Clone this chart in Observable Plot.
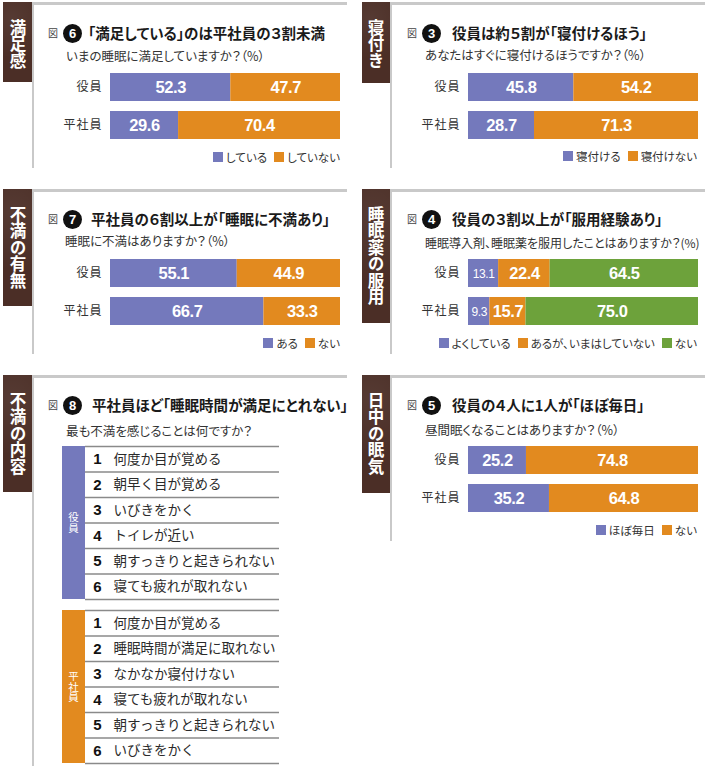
<!DOCTYPE html>
<html><head><meta charset="utf-8">
<script src="https://cdn.jsdelivr.net/npm/d3@7"></script>
<script src="https://cdn.jsdelivr.net/npm/@observablehq/plot@0.6"></script>
<style>
body{margin:0;background:#fff;}
#root{position:relative;width:710px;height:768px;overflow:hidden;font-family:"Noto Sans CJK JP",sans-serif;color:#2a2a2a;}
#root svg g[aria-label="y-axis tick label"] text{letter-spacing:1px;}
#root svg .val text{letter-spacing:-0.4px;}
</style>
</head><body><div id="root"></div>
<script>
// ---- data ----
const groups = ["役員", "平社員"];
// 図6 満足感
const satCats = ["している", "していない"];
const satExec = [52.3, 47.7];
const satStaff = [29.6, 70.4];
// 図3 寝付き
const onsetCats = ["寝付ける", "寝付けない"];
const onsetExec = [45.8, 54.2];
const onsetStaff = [28.7, 71.3];
// 図7 不満の有無
const dissCats = ["ある", "ない"];
const dissExec = [55.1, 44.9];
const dissStaff = [66.7, 33.3];
// 図4 睡眠薬の服用
const medCats = ["よくしている", "あるが、いまはしていない", "ない"];
const medExec = [13.1, 22.4, 64.5];
const medStaff = [9.3, 15.7, 75.0];
// 図5 日中の眠気
const dayCats = ["ほぼ毎日", "ない"];
const dayExec = [25.2, 74.8];
const dayStaff = [35.2, 64.8];
// 図8 不満の内容
const ranks = [1, 2, 3, 4, 5, 6];
const execComplaints = ["何度か目が覚める", "朝早く目が覚める", "いびきをかく", "トイレが近い", "朝すっきりと起きられない", "寝ても疲れが取れない"];
const staffComplaints = ["何度か目が覚める", "睡眠時間が満足に取れない", "なかなか寝付けない", "寝ても疲れが取れない", "朝すっきりと起きられない", "いびきをかく"];

// ---- styles ----
const PURPLE = "#7479bc", ORANGE = "#e28a1f", GREEN = "#6da23b", BROWN = "#4b2e26", LINE = "#c9c9c9";
const two = [PURPLE, ORANGE], three = [PURPLE, ORANGE, GREEN];
const NUM = "'Liberation Sans','Arial',sans-serif";
const JP = "'Noto Sans CJK JP',sans-serif";

const root = document.getElementById("root");
function el(css, html) {
  const e = document.createElement("div");
  e.style.cssText = "position:absolute;" + css;
  if (html != null) e.innerHTML = html;
  root.appendChild(e);
  return e;
}

function frame(x, y, topW, leftH, tabX, tabH, tabText) {
  el(`left:${x}px;top:${y}px;width:${topW}px;height:3px;background:${LINE}`);
  el(`left:${x - 1}px;top:${y}px;width:2px;height:${leftH}px;background:${LINE}`);
  el(`left:${tabX}px;top:${y}px;width:${x - 1 - tabX}px;height:${tabH}px;background:${BROWN};` +
     `background-image:radial-gradient(circle at 30% 20%,rgba(255,255,255,0.06),rgba(0,0,0,0) 60%);` +
     `color:#fff;font-weight:700;font-size:16.5px;writing-mode:vertical-rl;text-orientation:upright;` +
     `line-height:${x - 1 - tabX}px;padding-top:17px;box-sizing:border-box;font-family:${JP}`, tabText);
}

function title(zuX, cy, num, textX, text) {
  el(`left:${zuX}px;top:${cy - 8}px;line-height:16px;font-size:10px;color:#444`, "図");
  el(`left:${zuX + 15}px;top:${cy - 9.5}px;width:19px;height:19px;border-radius:50%;background:#111;color:#fff;` +
     `font:bold 13px 'Liberation Sans',sans-serif;text-align:center;line-height:19px`, num);
  el(`left:${textX}px;top:${cy - 12}px;line-height:24px;font-size:14.5px;font-weight:700;color:#1a1a1a;` +
     `white-space:nowrap;font-feature-settings:'palt'`, text);
}

function subtitle(x, cy, text, size) {
  el(`left:${x}px;top:${cy - 10}px;line-height:20px;font-size:${size || 12.5}px;color:#333;white-space:nowrap;` +
     `font-feature-settings:'palt'`, text);
}

function legend(rightX, cy, cats, colors) {
  const items = cats.map((c, i) =>
    `<span style="display:inline-block;width:10px;height:10px;background:${colors[i]};margin-right:3px"></span>` +
    `<span style="margin-right:${i < cats.length - 1 ? 7 : 0}px">${c}</span>`).join("");
  el(`right:${710 - rightX}px;top:${cy - 9}px;height:18px;display:flex;align-items:center;font-size:11.5px;` +
     `color:#333;white-space:nowrap;font-feature-settings:'palt'`, items);
}

function barChart(left, top, cats, exec, staff, colors) {
  const rows = [];
  groups.forEach((g, gi) => {
    const vals = gi === 0 ? exec : staff;
    cats.forEach((c, ci) => rows.push({group: g, cat: c, value: vals[ci]}));
  });
  const chart = Plot.plot({
    width: 282, height: 66,
    marginLeft: 50, marginRight: 2, marginTop: 0, marginBottom: 0,
    style: {fontFamily: JP, color: "#333", background: "transparent", overflow: "visible"},
    x: {domain: [0, 100], axis: null},
    y: {domain: groups, paddingInner: 10 / 38, paddingOuter: 0, axis: null},
    color: {domain: cats, range: colors},
    marks: [
      Plot.barX(rows, Plot.stackX({x: "value", y: "group", fill: "cat"})),
      Plot.text(rows, Plot.stackX({x: "value", y: "group", z: "cat",
        text: d => d.value >= 14 ? d.value.toFixed(1) : "", fill: "white",
        fontSize: 16.5, fontWeight: "bold", fontFamily: NUM, dy: 0.5, className: "val"})),
      Plot.text(rows, Plot.stackX({x: "value", y: "group", z: "cat",
        text: d => d.value < 14 ? d.value.toFixed(1) : "", fill: "white",
        fontSize: 12, fontFamily: NUM, dy: 0.5, className: "val"})),
      Plot.axisY({tickSize: 0, tickPadding: 8, fontSize: 12, label: null})
    ]
  });
  chart.style.position = "absolute";
  chart.style.left = left + "px";
  chart.style.top = top + "px";
  root.appendChild(chart);
}

function rankTable(left, top, items, color, label) {
  const rows = ranks.map((r, i) => ({rank: r, text: items[i]}));
  el(`left:${left - 23}px;top:${top + 1}px;width:23px;height:153px;background:${color};` +
    `display:flex;align-items:center;justify-content:center;color:#fff;font-size:10.5px`,
    `<span style="writing-mode:vertical-rl;text-orientation:upright;line-height:1.05">${label}</span>`);
  const chart = Plot.plot({
    width: 196, height: 155,
    marginLeft: 0, marginRight: 2, marginTop: 1, marginBottom: 1,
    style: {fontFamily: JP, color: "#222", background: "transparent", overflow: "visible"},
    x: {domain: [0, 1], axis: null},
    y: {domain: [0.5, ranks.length + 0.5], reverse: true, axis: null},
    marks: [
      Plot.ruleY([0, ...ranks], {y: d => d + 0.5, stroke: "#8a8a8a", strokeWidth: 1.3}),
      Plot.text(rows, {y: "rank", frameAnchor: "left", dx: 12, text: d => String(d.rank),
        textAnchor: "middle", fontWeight: "bold", fontSize: 15, fontFamily: NUM, fill: "#111"}),
      Plot.text(rows, {y: "rank", frameAnchor: "left", dx: 28, text: "text",
        textAnchor: "start", fontSize: 13.5, fill: "#2a2a2a"})
    ]
  });
  chart.style.position = "absolute";
  chart.style.left = left + "px";
  chart.style.top = top + "px";
  root.appendChild(chart);
}

// ---- panel 1: 満足感 ----
frame(33, 2, 314, 166, 3, 80, "満足感");
title(48, 33, "6", 88, "「満足している」のは平社員の３割未満");
subtitle(66, 56, "いまの睡眠に満足していますか？（%）");
barChart(60, 73, satCats, satExec, satStaff, two);
legend(340, 157, satCats, two);

// ---- panel 2: 寝付き ----
frame(391, 2, 314, 166, 362, 81, "寝付き");
title(407, 33, "3", 452, "役員は約５割が「寝付けるほう」");
subtitle(425, 55, "あなたはすぐに寝付けるほうですか？（%）");
barChart(418, 73, onsetCats, onsetExec, onsetStaff, two);
legend(697, 156, onsetCats, two);

// ---- panel 3: 不満の有無 ----
frame(33, 189, 314, 165, 3, 117, "不満の有無");
title(48, 219, "7", 91, "平社員の６割以上が「睡眠に不満あり」");
subtitle(65, 241, "睡眠に不満はありますか？（%）");
barChart(60, 259, dissCats, dissExec, dissStaff, two);
legend(340, 343, dissCats, two);

// ---- panel 4: 睡眠薬の服用 ----
frame(391, 189, 314, 165, 362, 134, "睡眠薬の服用");
title(407, 219, "4", 452, "役員の３割以上が「服用経験あり」");
subtitle(425, 243, "睡眠導入剤、睡眠薬を服用したことはありますか？(%)", 12);
barChart(418, 259, medCats, medExec, medStaff, three);
legend(697, 343, medCats, three);

// ---- panel 5: 不満の内容 ----
frame(33, 375, 314, 391, 3, 117, "不満の内容");
title(48, 405, "8", 92, "平社員ほど「睡眠時間が満足にとれない」");
subtitle(66, 431, "最も不満を感じることは何ですか？");
rankTable(85, 445, execComplaints, PURPLE, "役員");
rankTable(85, 609, staffComplaints, ORANGE, "平社員");

// ---- panel 6: 日中の眠気 ----
frame(391, 375, 314, 166, 362, 118, "日中の眠気");
title(407, 405, "5", 452, "役員の４人に1人が「ほぼ毎日」");
subtitle(425, 430, "昼間眠くなることはありますか？（%）");
barChart(418, 446, dayCats, dayExec, dayStaff, two);
legend(697, 530, dayCats, two);
</script>
</body></html>
